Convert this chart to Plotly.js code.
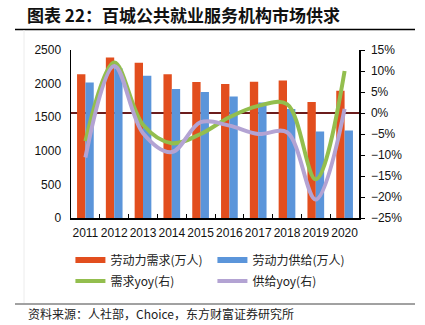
<!DOCTYPE html>
<html><head><meta charset="utf-8">
<script src="https://cdn.plot.ly/plotly-3.0.1.min.js"></script>
<style>html,body{margin:0;padding:0;background:#fff}#c{width:425px;height:325px}</style>
</head><body><div id="c"></div>
<script>
const years = ['2011','2012','2013','2014','2015','2016','2017','2018','2019','2020'];
const demand = [2140, 2390, 2310, 2140, 2022, 1993, 2027, 2046, 1726, 1893];
const supply = [2017, 2230, 2115, 1918, 1874, 1809, 1720, 1622, 1287, 1302];
const demandYoy = [-6.7, 12.0, -2.8, -7.2, -5.0, -1.0, 1.7, 2.1, -15.8, 10.0];
const supplyYoy = [-10.6, 11.2, -4.8, -9.3, -2.2, -3.0, -5.0, -4.6, -20.6, 1.0];
const names = ['劳动力需求(万人)', '劳动力供给(万人)', '需求yoy(右)', '供给yoy(右)'];
const colors = ['#E24E1E', '#5B95DA', '#93BE4E', '#B3A3D3'];

const cjk = '"Noto Sans CJK SC", "Liberation Sans", sans-serif';
const latin = '"Liberation Sans", Arial, sans-serif';

const traces = [
  {type:'bar', x:years, y:demand, marker:{color:colors[0]}, showlegend:false, name:names[0]},
  {type:'bar', x:years, y:supply, marker:{color:colors[1]}, showlegend:false, name:names[1]},
  {type:'scatter', mode:'lines', x:years, y:demandYoy, yaxis:'y2', line:{color:colors[2], width:4, shape:'spline', smoothing:1}, showlegend:false, name:names[2]},
  {type:'scatter', mode:'lines', x:years, y:supplyYoy, yaxis:'y2', line:{color:colors[3], width:4, shape:'spline', smoothing:1}, showlegend:false, name:names[3]}
];
names.forEach((n,i)=>{
  traces.push({type:'scatter', mode:'lines', x:[null], y:[null], name:n, legend: i<2 ? 'legend' : 'legend2', line:{color:colors[i], width:i<2?6:4}, showlegend:true});
});

const legBase = {orientation:'h', xref:'paper', x:-0.002, xanchor:'left', yanchor:'middle', entrywidth:97, entrywidthmode:'pixels', font:{family:cjk, size:12, color:'#222'}, bgcolor:'rgba(0,0,0,0)'};

const layout = {
  width:425, height:325,
  margin:{l:71, r:66, t:50, b:107, autoexpand:false},
  paper_bgcolor:'#fff', plot_bgcolor:'#fff',
  barmode:'group', bargap:0.42, bargroupgap:0,
  title:{text:'<b>图表 22：百城公共就业服务机构市场供求</b>', x:27/425, xanchor:'left', y:1-16.5/325, yanchor:'middle', font:{family:cjk, size:17, color:'#111'}},
  xaxis:{type:'category', tickangle:0, showline:true, linecolor:'#000', linewidth:1.5, ticks:'inside', tickson:'boundaries', ticklen:4, tickcolor:'#000', ticklabelstandoff:3, tickfont:{family:latin, size:12, color:'#111'}, showgrid:false, zeroline:false},
  yaxis:{range:[0,2500], dtick:500, showline:true, linecolor:'#000', linewidth:1.5, ticks:'', ticklabelstandoff:6, showgrid:false, zeroline:false, tickfont:{family:latin, size:12, color:'#111'}},
  yaxis2:{overlaying:'y', side:'right', range:[-25,15], dtick:5, ticksuffix:'%', showline:true, linecolor:'#000', linewidth:1.5, ticks:'outside', ticklen:4, tickcolor:'#000', ticklabelstandoff:4, showgrid:false, zeroline:true, zerolinecolor:'#6B1C1C', zerolinewidth:2.5, tickfont:{family:latin, size:12, color:'#111'}},
  legend: Object.assign({}, legBase, {y:-(260-218)/168}),
  legend2: Object.assign({}, legBase, {y:-(281-218)/168}),
  shapes:[
    {type:'line', xref:'paper', yref:'paper', x0:-56/288, x1:344/288, y0:1+20.5/168, y1:1+20.5/168, line:{color:'#000', width:1.5}},
    {type:'line', xref:'paper', yref:'paper', x0:-56/288, x1:344/288, y0:-86/168, y1:-86/168, line:{color:'#444', width:1}},
    {type:'line', xref:'paper', yref:'paper', x0:-47/288, x1:-47/288, y0:1+20/168, y1:-85/168, line:{color:'#ececec', width:1}}
  ],
  annotations:[
    {text:'资料来源：人社部，Choice，东方财富证券研究所', xref:'paper', yref:'paper', x:-45/288, y:-95/168, xanchor:'left', yanchor:'middle', showarrow:false, font:{family:cjk, size:12, color:'#222'}}
  ]
};
Plotly.newPlot('c', traces, layout, {displayModeBar:false, staticPlot:true});
</script></body></html>
